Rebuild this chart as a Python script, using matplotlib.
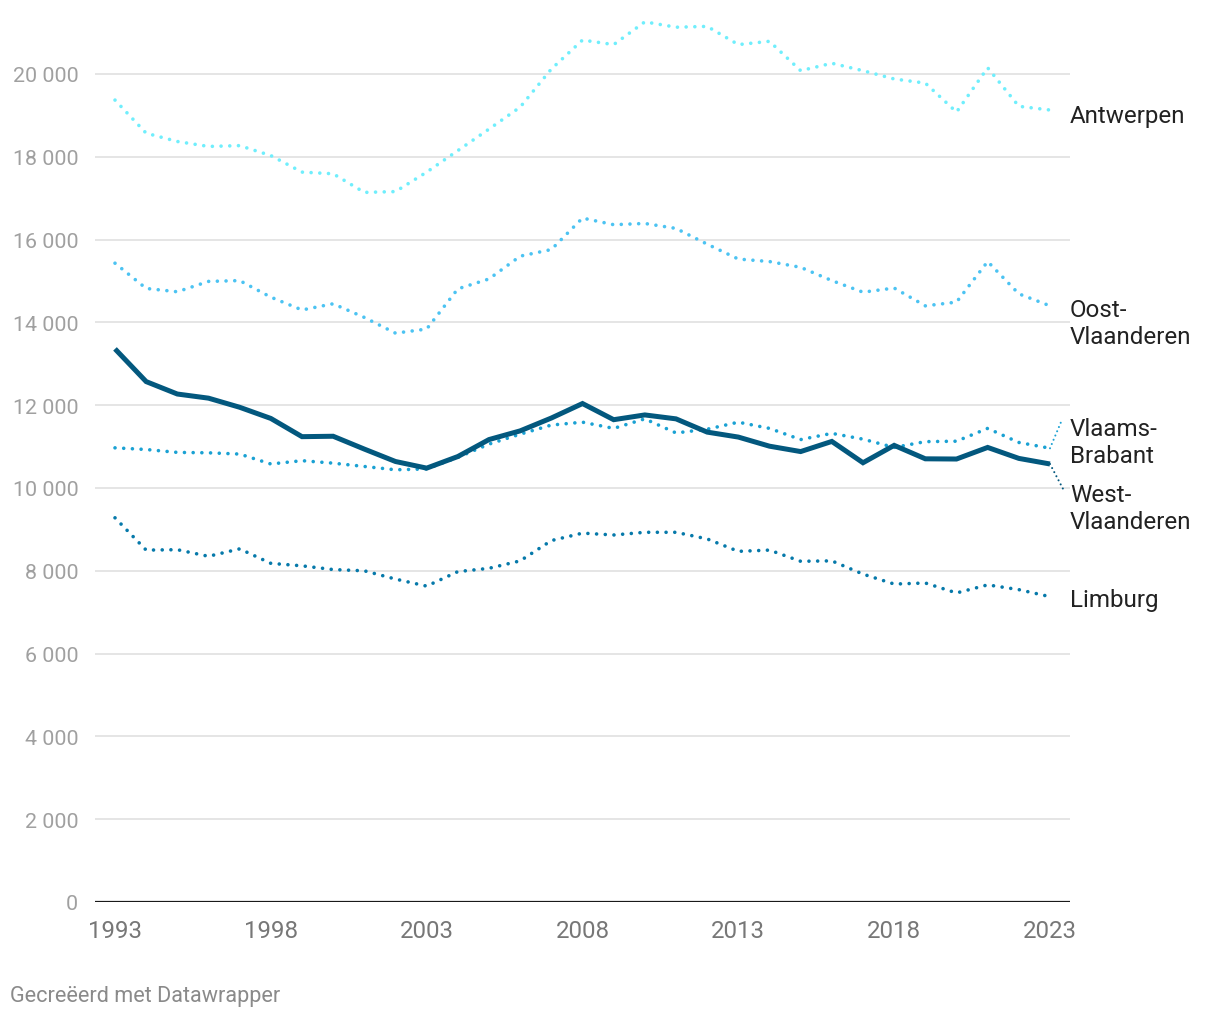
import matplotlib
matplotlib.use("Agg")
import matplotlib.pyplot as plt

plt.rcParams['font.family'] = ['Roboto', 'DejaVu Sans']

years = list(range(1993, 2024))

antwerpen = [19370, 18570, 18370, 18250, 18270, 18030, 17630, 17590, 17140, 17160,
             17630, 18150, 18670, 19200, 20120, 20820, 20710, 21260, 21130, 21150,
             20710, 20790, 20080, 20260, 20080, 19880, 19780, 19080, 20150, 19220, 19130]
oost_vlaanderen = [15430, 14820, 14740, 14990, 15010, 14610, 14300, 14450, 14120, 13740,
                   13840, 14810, 15050, 15600, 15760, 16520, 16360, 16390, 16270, 15890,
                   15530, 15470, 15330, 15010, 14730, 14830, 14400, 14490, 15470, 14690, 14400]
vlaams_brabant = [10970, 10930, 10860, 10850, 10820, 10580, 10660, 10600, 10520, 10440,
                  10460, 10740, 11060, 11300, 11520, 11590, 11440, 11670, 11330, 11420,
                  11590, 11440, 11170, 11320, 11180, 10980, 11120, 11130, 11440, 11100, 10960]
west_vlaanderen = [13360, 12570, 12270, 12170, 11950, 11680, 11240, 11250, 10940, 10640,
                   10480, 10760, 11170, 11380, 11690, 12040, 11650, 11765, 11670, 11350,
                   11230, 11010, 10880, 11125, 10610, 11030, 10705, 10700, 10980, 10715, 10580]
limburg = [9280, 8500, 8510, 8350, 8530, 8180, 8120, 8030, 8000, 7800,
           7630, 7980, 8060, 8240, 8730, 8910, 8865, 8930, 8930, 8770,
           8470, 8500, 8230, 8240, 7920, 7680, 7705, 7465, 7660, 7545, 7375]

y_ticks = [0, 2000, 4000, 6000, 8000, 10000, 12000, 14000, 16000, 18000, 20000]
y_tick_labels = ["0", "2 000", "4 000", "6 000", "8 000", "10 000", "12 000",
                 "14 000", "16 000", "18 000", "20 000"]
x_ticks = [1993, 1998, 2003, 2008, 2013, 2018, 2023]

series = [
    ("Antwerpen", antwerpen, "#70eefc", "dot"),
    ("Oost-\nVlaanderen", oost_vlaanderen, "#4cc3f2", "dot"),
    ("Vlaams-\nBrabant", vlaams_brabant, "#1aa1d3", "dot"),
    ("Limburg", limburg, "#0679aa", "dot"),
    ("West-\nVlaanderen", west_vlaanderen, "#03587e", "solid"),
]

W, H = 1220, 1020
fig = plt.figure(figsize=(W / 100, H / 100), dpi=100)
fig.patch.set_facecolor("white")

left_px, right_px, bottom_px = 95, 1070, 903
ymax = 21600
px_per_unit = 828 / 20000
height_px = ymax * px_per_unit
ax = fig.add_axes([left_px / W, (H - bottom_px) / H, (right_px - left_px) / W, height_px / H])

x_pad = 20 / 31.17
ax.set_xlim(1993 - x_pad, 2023 + x_pad)
ax.set_ylim(0, ymax)

for s in ax.spines.values():
    s.set_visible(False)

for yt in y_ticks[1:]:
    ax.axhline(yt, color="#e3e3e3", lw=1.3, zorder=1)
ax.axhline(0, color="#1a1a1a", lw=1.6, zorder=5)

ax.set_yticks(y_ticks)
ax.set_yticklabels(y_tick_labels)
ax.set_xticks(x_ticks)
ax.set_xticklabels([str(x) for x in x_ticks])
ax.tick_params(axis="y", length=0, pad=12, labelsize=15.4, labelcolor="#a0a0a0")
ax.tick_params(axis="x", length=0, pad=12, labelsize=17.3, labelcolor="#777777")

for name, vals, color, style in series:
    if style == "solid":
        ax.plot(years, vals, color=color, lw=3.6, solid_joinstyle="miter",
                solid_capstyle="butt", zorder=4)
    else:
        ax.plot(years, vals, color=color, lw=2.6, linestyle=(0, (0.01, 2.4)),
                dash_capstyle="round", zorder=3)

# direct labels
label_y = {
    "Antwerpen": 19000,
    "Oost-\nVlaanderen": 13980,
    "Vlaams-\nBrabant": 11100,
    "Limburg": 7295,
    "West-\nVlaanderen": 9520,
}
for name, vals, color, style in series:
    ax.text(2023 + x_pad, label_y[name], name, ha="left", va="center",
            fontsize=17.4, color="#222222", linespacing=1.22, clip_on=False)

# connector lines for the two crowded labels
ax.plot([2023, 2023 + 12 / 31.17], [vlaams_brabant[-1], 11650], color="#1aa1d3",
        lw=1.5, linestyle=(0, (0.01, 2.2)), dash_capstyle="round", clip_on=False, zorder=3)
ax.plot([2023, 2023 + 13 / 31.17], [west_vlaanderen[-1], 9980], color="#03587e",
        lw=1.5, linestyle=(0, (0.01, 2.2)), dash_capstyle="round", clip_on=False, zorder=3)

fig.text(10 / W, 1 - 997 / H, "Gecreëerd met Datawrapper", ha="left", va="center",
         fontsize=15.6, color="#8a8a8a")

fig.savefig("out.png", dpi=100, facecolor="white")
